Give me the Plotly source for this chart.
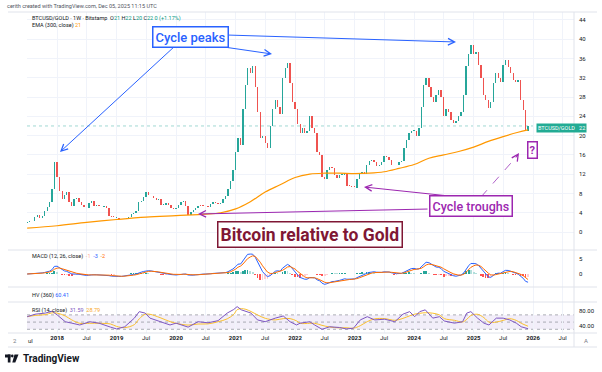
import plotly.graph_objects as go
import pandas as pd
import numpy as np

W, H = 602, 372

# ---------------- data (semi-monthly closes, BTCUSD/GOLD) ----------------
start_date = "2017-07-01"
closes_2017 = [2.0, 2.2, 2.3, 3.2, 3.6, 3.0, 3.4, 4.3, 5.2, 6.2, 9.0, 14.5]
closes_2018 = [11.5, 8.5, 6.8, 7.6, 8.3, 6.2, 5.4, 6.8, 7.0, 6.3, 5.6, 5.1,
               5.0, 6.0, 6.5, 5.4, 5.6, 5.3, 5.2, 5.4, 5.0, 3.4, 3.1, 3.0]
closes_2019 = [3.0, 2.8, 2.6, 2.8, 2.9, 3.1, 3.7, 4.0, 4.3, 6.2, 6.4, 7.2,
               8.2, 7.6, 7.5, 7.0, 6.7, 6.8, 5.6, 5.6, 6.1, 5.6, 5.0, 4.8]
closes_2020 = [4.9, 5.6, 6.3, 6.5, 5.5, 3.5, 4.2, 4.6, 5.0, 5.5, 5.4, 5.3,
               5.3, 5.1, 5.9, 6.2, 6.0, 5.8, 6.0, 6.8, 7.4, 9.0, 10.5, 12.8]
closes_2021 = [16.5, 19.5, 18.0, 25.5, 30.5, 34.0, 33.0, 34.5, 30.0, 25.0, 19.5, 20.0,
               18.5, 17.5, 22.0, 25.5, 27.4, 26.0, 24.5, 32.0, 34.0, 35.0, 31.0, 27.0]
closes_2022 = [25.5, 22.5, 20.5, 21.5, 20.5, 21.0, 24.0, 21.5, 20.5, 16.5, 16.0, 11.5,
               11.0, 12.8, 13.5, 13.2, 11.8, 11.3, 11.8, 11.8, 12.2, 9.6, 9.5, 9.3]
closes_2023 = [9.2, 11.0, 12.2, 12.5, 12.0, 14.0, 14.7, 15.0, 14.5, 13.7, 13.8, 14.5,
               15.8, 15.5, 15.0, 14.0, 13.8, 14.0, 14.5, 14.8, 17.5, 19.0, 20.5, 21.0]
closes_2024 = [21.0, 20.0, 21.5, 26.0, 30.5, 32.0, 30.0, 28.0, 27.0, 28.5, 29.5, 28.0,
               24.0, 25.5, 25.0, 23.2, 22.6, 23.0, 24.0, 25.0, 28.5, 34.5, 37.0, 38.8]
closes_2025 = [37.0, 37.4, 34.6, 32.0, 28.5, 27.4, 25.7, 27.0, 31.0, 33.0, 32.0, 31.1,
               34.6, 35.7, 34.3, 33.0, 31.5, 31.1, 31.5, 27.4, 25.3, 21.0, 22.0]
first_open = 1.9

ema300_dates = ["2017-07-01", "2018-01-01", "2018-07-01", "2019-01-01", "2019-07-01",
                "2020-01-01", "2020-07-01", "2020-10-01", "2021-01-01", "2021-04-01",
                "2021-07-01", "2021-10-01", "2022-01-01", "2022-04-01", "2022-07-01",
                "2022-10-01", "2023-01-01", "2023-04-01", "2023-07-01", "2023-10-01",
                "2024-01-01", "2024-04-01", "2024-07-01", "2024-10-01", "2025-01-01",
                "2025-04-01", "2025-07-01", "2025-10-01", "2025-12-01"]
ema300_vals = [0.8, 1.3, 2.0, 2.6, 3.1, 3.4, 3.7, 4.0, 4.8, 6.3,
               8.3, 9.8, 11.3, 12.0, 12.2, 12.2, 12.1, 12.2, 12.5, 13.2,
               14.0, 15.3, 16.0, 16.7, 17.6, 18.8, 19.8, 20.7, 21.2]

rsi_dates = ["2017-07-01", "2017-08-20", "2017-10-20", "2017-12-01", "2018-01-01",
             "2018-02-20", "2018-04-01", "2018-05-20", "2018-07-20", "2018-09-15",
             "2018-11-25", "2019-01-01", "2019-02-20", "2019-04-20", "2019-05-20",
             "2019-06-25", "2019-07-25", "2019-09-25", "2019-11-25", "2020-01-01",
             "2020-03-15", "2020-05-15", "2020-07-15", "2020-09-15", "2020-11-10",
             "2020-12-20", "2021-01-10", "2021-02-05", "2021-03-05", "2021-04-05",
             "2021-05-15", "2021-07-01", "2021-09-01", "2021-10-20", "2021-12-01",
             "2022-01-10", "2022-02-01", "2022-04-01", "2022-05-01", "2022-06-15",
             "2022-08-01", "2022-10-01", "2022-11-10", "2022-12-25", "2023-02-05",
             "2023-03-20", "2023-05-05", "2023-07-05", "2023-09-05", "2023-10-25",
             "2023-12-05", "2024-01-05", "2024-02-05", "2024-03-10", "2024-04-25",
             "2024-06-05", "2024-07-05", "2024-09-05", "2024-10-25", "2024-11-20",
             "2024-12-15", "2025-01-25", "2025-03-05", "2025-04-05", "2025-05-20",
             "2025-07-01", "2025-08-10", "2025-09-20", "2025-10-20", "2025-12-01"]
rsi_vals = [65, 72, 75, 80, 70, 51, 47, 42, 51, 47,
            36, 31, 37, 61, 79, 75, 61, 51, 42, 47,
            36, 51, 48, 54, 75, 85, 93, 84, 79, 75,
            56, 51, 61, 67, 51, 42, 47, 51, 42, 30,
            37, 35, 31, 33, 56, 65, 56, 58, 51, 72,
            79, 65, 79, 84, 61, 65, 53, 47, 51, 75,
            79, 61, 47, 42, 61, 61, 56, 47, 37, 31.59]

price_ticks = [0, 4, 8, 12, 16, 20, 24, 28, 32, 36, 40, 44]
macd_ticks = [0, 5]
rsi_ticks = [40, 80]
rsi_tick_text = ["40.00", "80.00"]
x_tick_dates = ["2018-01-01", "2018-07-01", "2019-01-01", "2019-07-01", "2020-01-01",
                "2020-07-01", "2021-01-01", "2021-07-01", "2022-01-01", "2022-07-01",
                "2023-01-01", "2023-07-01", "2024-01-01", "2024-07-01", "2025-01-01",
                "2025-07-01", "2026-01-01", "2026-07-01"]
x_tick_text = ["<b>2018</b>", "Jul", "<b>2019</b>", "Jul", "<b>2020</b>", "Jul",
               "<b>2021</b>", "Jul", "<b>2022</b>", "Jul", "<b>2023</b>", "Jul",
               "<b>2024</b>", "Jul", "<b>2025</b>", "Jul", "<b>2026</b>", "Jul"]

# ---------------- derived ----------------
closes = (closes_2017 + closes_2018 + closes_2019 + closes_2020 + closes_2021 +
          closes_2022 + closes_2023 + closes_2024 + closes_2025)
dates = pd.date_range(start_date, periods=len(closes), freq="SMS")
c = pd.Series(closes, index=dates)
o = c.shift(1).fillna(first_open)
body = c - o
candle_col = np.where(body >= 0, "#26a69a", "#ef5350")
body_drawn = body.where(body.abs() > 0.15, 0.15)

def ema(s, span):
    return s.ewm(span=span, adjust=False).mean()

# weekly MACD(12,26,9) expressed in half-month periods
macd = ema(c, 5.5) - ema(c, 12)
signal = ema(macd, 4.2)
hist = macd - signal
hist_col = []
prev = 0
for v in hist:
    if v >= 0:
        hist_col.append("#26a69a" if v >= prev else "#b2dfdb")
    else:
        hist_col.append("#ffcdd2" if v >= prev else "#ff5252")
    prev = v

rsi = pd.Series(rsi_vals, index=pd.to_datetime(rsi_dates))
rsi_ma = rsi.rolling(3, min_periods=1).mean()

# ---------------- helpers ----------------
def px(x):
    return x / W

def py(y):
    return 1 - y / H

X0, X1 = 27, 574
FONT = "Roboto"
GRID = "#f0f3fa"
TXT = "#131722"
DAY = 86400000

fig = go.Figure()

fig.add_trace(go.Bar(x=dates, y=body_drawn, base=o, width=8 * DAY,
                     marker=dict(color=candle_col, line=dict(width=0)),
                     showlegend=False, xaxis="x", yaxis="y", hoverinfo="skip"))
fig.add_trace(go.Scatter(x=pd.to_datetime(ema300_dates), y=ema300_vals, mode="lines",
                         line=dict(color="#ff9800", width=1.2, shape="spline"),
                         showlegend=False, xaxis="x", yaxis="y", hoverinfo="skip"))

fig.add_trace(go.Bar(x=dates, y=hist, marker=dict(color=hist_col, line=dict(width=0)),
                     width=11 * DAY, showlegend=False, xaxis="x", yaxis="y2",
                     hoverinfo="skip"))
fig.add_trace(go.Scatter(x=dates, y=macd, mode="lines", line=dict(color="#2962ff", width=1),
                         showlegend=False, xaxis="x", yaxis="y2", hoverinfo="skip"))
fig.add_trace(go.Scatter(x=dates, y=signal, mode="lines", line=dict(color="#ff6d00", width=1),
                         showlegend=False, xaxis="x", yaxis="y2", hoverinfo="skip"))

fig.add_trace(go.Scatter(x=[dates[0]], y=[0], mode="markers", marker=dict(opacity=0),
                         showlegend=False, xaxis="x", yaxis="y3", hoverinfo="skip"))

fig.add_trace(go.Scatter(x=rsi_ma.index, y=rsi_ma.values, mode="lines",
                         line=dict(color="#fbc02d", width=1, shape="spline"),
                         showlegend=False, xaxis="x", yaxis="y4", hoverinfo="skip"))
fig.add_trace(go.Scatter(x=rsi.index, y=rsi.values, mode="lines",
                         line=dict(color="#7e57c2", width=1),
                         showlegend=False, xaxis="x", yaxis="y4", hoverinfo="skip"))

yax_base = dict(side="right", showline=False, zeroline=False, ticks="",
                tickfont=dict(family=FONT, size=6, color=TXT),
                fixedrange=True, ticklabelstandoff=4, anchor="x")

fig.update_layout(
    width=W, height=H, margin=dict(l=0, r=0, t=0, b=0),
    paper_bgcolor="white", plot_bgcolor="white",
    font=dict(family=FONT, color=TXT), bargap=0, hovermode=False,
    xaxis=dict(domain=[px(X0), px(X1)], anchor="y4",
               range=["2017-06-30", "2026-09-09"], type="date",
               tickvals=pd.to_datetime(x_tick_dates), ticktext=x_tick_text,
               tickfont=dict(family=FONT, size=6, color=TXT), ticks="",
               showgrid=True, gridcolor=GRID, gridwidth=1, zeroline=False,
               showline=False, fixedrange=True),
    yaxis=dict(domain=[py(250), py(12)], range=[-3.73, 45.64], tickvals=price_ticks,
               showgrid=True, gridcolor=GRID, gridwidth=1, **yax_base),
    yaxis2=dict(domain=[py(287), py(250)], range=[-4.33, 8], tickvals=macd_ticks,
                showgrid=False, **yax_base),
    yaxis3=dict(domain=[py(302), py(287)], range=[0, 1], showticklabels=False,
                showgrid=False, zeroline=False, anchor="x", fixedrange=True),
    yaxis4=dict(domain=[py(333), py(302)], range=[19.7, 105.8], tickvals=rsi_ticks,
                ticktext=rsi_tick_text, showgrid=False, **yax_base),
    showlegend=False,
)

shapes = []
shapes.append(dict(type="rect", xref="x domain", yref="y4", x0=0, x1=1, y0=30, y1=70,
                   fillcolor="rgba(126,87,194,0.10)", line=dict(width=0), layer="below"))
for lvl in (70, 50, 30):
    shapes.append(dict(type="line", xref="x domain", yref="y4", x0=0, x1=1, y0=lvl, y1=lvl,
                       line=dict(color="#9598a1", width=0.8, dash="dot"), layer="below"))
shapes.append(dict(type="line", xref="x domain", yref="y", x0=0, x1=1, y0=closes[-1], y1=closes[-1],
                   line=dict(color="rgba(38,166,154,0.55)", width=0.8, dash="dot"), layer="below"))
for yy in (12, 250, 287, 302, 333, 347):
    shapes.append(dict(type="line", xref="paper", yref="paper", x0=px(8), x1=px(597),
                       y0=py(yy), y1=py(yy), line=dict(color="#e0e3eb", width=1)))
shapes.append(dict(type="line", xref="paper", yref="paper", x0=px(X1), x1=px(X1),
                   y0=py(347), y1=py(12), line=dict(color="#e0e3eb", width=1)))
shapes.append(dict(type="line", xref="paper", yref="paper", x0=px(481), y0=py(197),
                   x1=px(518), y1=py(155), line=dict(color="#b061c9", width=1, dash="dash")))
shapes += [
    dict(type="rect", xref="paper", yref="paper", x0=px(5), x1=px(10.5), y0=py(357.5), y1=py(354.5),
         fillcolor="#131722", line=dict(width=0)),
    dict(type="rect", xref="paper", yref="paper", x0=px(7.8), x1=px(10.5), y0=py(362.5), y1=py(354.5),
         fillcolor="#131722", line=dict(width=0)),
    dict(type="circle", xref="paper", yref="paper", x0=px(11), x1=px(13.6), y0=py(357.5), y1=py(354.6),
         fillcolor="#131722", line=dict(width=0)),
    dict(type="path", xref="paper", yref="paper",
         path=f"M {px(14.5)} {py(354.5)} L {px(18.5)} {py(354.5)} L {px(15.3)} {py(362.5)} L {px(12.3)} {py(362.5)} Z",
         fillcolor="#131722", line=dict(width=0)),
]
fig.update_layout(shapes=shapes)

ann = []

def text(x, y, t, size=5.5, color=TXT, xanchor="left", **kw):
    ann.append(dict(xref="paper", yref="paper", x=px(x), y=py(y), text=t, showarrow=False,
                    xanchor=xanchor, yanchor="middle",
                    font=dict(family=FONT, size=size, color=color), **kw))

TEAL = "#089981"
text(5, 6, "cerith created with TradingView.com, Dec 05, 2025 11:15 UTC", size=5.5, color="#50535e")
text(30, 19, f"BTCUSD/GOLD · 1W · Bitstamp  O<span style='color:{TEAL}'>21</span> "
             f"H<span style='color:{TEAL}'>22</span> L<span style='color:{TEAL}'>20</span> "
             f"C<span style='color:{TEAL}'>22</span> <span style='color:{TEAL}'>0 (+1.17%)</span>", size=5.5)
text(30, 25.5, "EMA (300, close) <span style='color:#ff9800'>21</span>", size=5.5)
text(30, 256, "MACD (12, 26, close)  <span style='color:#ffab91'>-1</span>  "
              "<span style='color:#2962ff'>-3</span>  <span style='color:#ff6d00'>-2</span>", size=5.5)
text(30, 295, "HV (360) <span style='color:#2962ff'>60.41</span>", size=5.5)
text(30, 310, "RSI (14, close)  <span style='color:#7e57c2'>31.59</span>  "
              "<span style='color:#f9a825'>28.79</span>", size=5.5)
text(26, 340, "ul", size=6)
text(15, 340, "2", size=6, color="#787b86", xanchor="center")
text(586, 340, "A", size=6, color="#787b86", xanchor="center")
text(21, 358.5, "<b>TradingView</b>", size=10)

ann.append(dict(xref="paper", yref="paper", x=px(536), y=py(127.5), xanchor="left", yanchor="middle",
                text="BTCUSD/GOLD   22", showarrow=False, bgcolor="#22ab94",
                font=dict(family=FONT, size=5.5, color="white"), borderpad=1))

def box(x, y, t, color, size, bw=1.5, pad=2):
    ann.append(dict(xref="paper", yref="paper", x=px(x), y=py(y), text=t, showarrow=False,
                    xanchor="center", yanchor="middle", bgcolor="white", bordercolor=color,
                    borderwidth=bw, borderpad=pad,
                    font=dict(family=FONT, size=size, color=color, weight=500)))

def arrow(tx, ty, hx, hy, color):
    ann.append(dict(xref="paper", yref="paper", x=px(hx), y=py(hy), ax=tx - hx, ay=ty - hy,
                    axref="pixel", ayref="pixel", text="", showarrow=True, arrowhead=5,
                    arrowsize=1.3, arrowwidth=1, arrowcolor=color))

BLUE = "#2962ff"
PURP = "#9c27b0"
MAROON = "#7f1734"

arrow(175, 46, 60, 152, BLUE)
arrow(210, 45, 272, 54, BLUE)
arrow(226, 35, 456, 42, BLUE)
arrow(429, 209, 198, 214, PURP)
arrow(468, 198, 364, 187, PURP)
arrow(515, 159, 519, 153, PURP)

box(190, 36.5, "Cycle peaks", BLUE, 13)
box(471, 206.5, "Cycle troughs", PURP, 12.5)
box(532.5, 150, "<b>?</b>", PURP, 11, pad=1)
box(310, 234, "<b>Bitcoin relative to Gold</b>", MAROON, 17.5)

fig.update_layout(annotations=ann)

fig.write_html("out.html", config={"displayModeBar": False, "staticPlot": True},
               post_script="document.body.style.margin='0';document.body.style.padding='0';"
                           "document.documentElement.style.overflow='hidden';")
